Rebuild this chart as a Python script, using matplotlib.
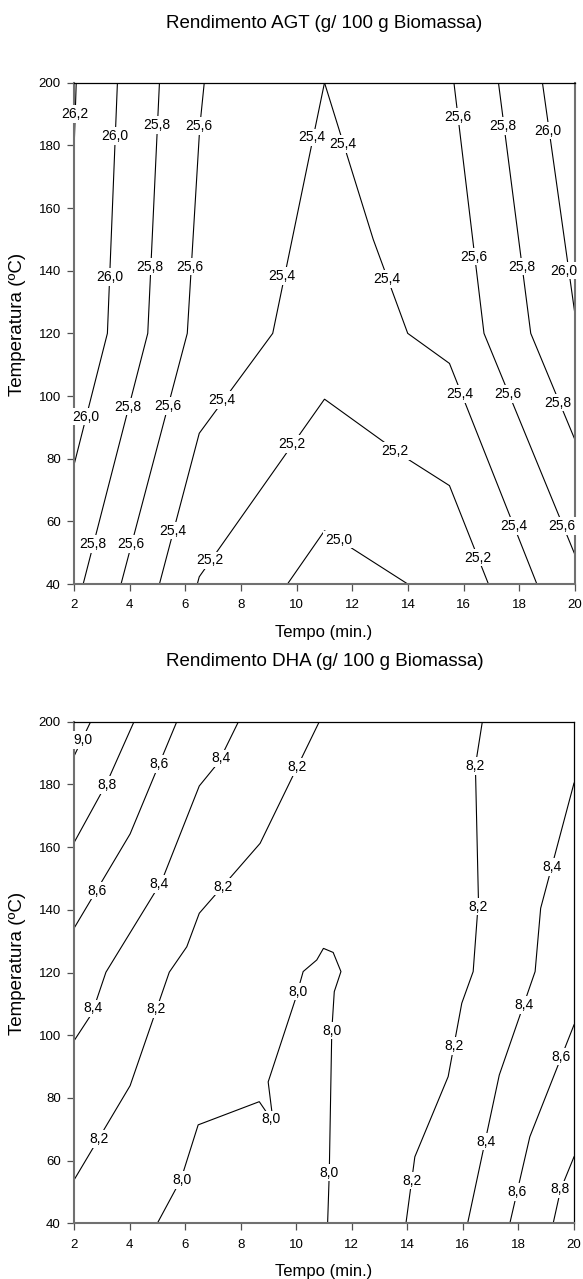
import matplotlib
matplotlib.use("Agg")
import matplotlib.pyplot as plt

plt.rcParams['font.family'] = ['Liberation Sans', 'DejaVu Sans']

# ---- AGT yield: contour lines (Tempo, Temperatura)
agt_line_x = [
    [2.08, 2.0],
    [3.56, 3.2, 2.0],
    [5.07, 4.65, 2.33],
    [6.68, 6.52, 6.07, 3.69],
    [11.0, 9.14, 6.50, 5.07],
    [11.0, 12.75, 13.99, 15.49, 18.63],
    [6.43, 6.5, 11.0, 13.95, 15.49, 16.89],
    [9.67, 11.0, 13.99],
    [15.65, 16.73, 20.0],
    [17.25, 18.41, 20.0],
    [18.83, 20.0],
]
agt_line_y = [
    [200, 178],
    [200, 120, 78],
    [200, 120, 40],
    [200, 186, 120, 40],
    [200, 120, 88.1, 40],
    [200, 150, 120, 110.4, 40],
    [40, 42.3, 99, 80.1, 71.4, 40],
    [40, 57, 40],
    [200, 120, 49.3],
    [200, 120, 86],
    [200, 126],
]
agt_label_x = [2.02, 3.45, 3.29, 2.42, 4.99, 4.73, 3.93, 2.69, 6.47, 6.17, 5.37, 4.05,
               10.54, 9.46, 7.31, 5.55, 11.65, 13.24, 15.87, 17.79,
               6.89, 9.82, 13.53, 16.5, 11.5, 15.79, 16.37, 17.58, 19.52,
               17.40, 18.09, 19.38, 19.02, 19.6]
agt_label_y = [190, 183, 138, 93.4, 186.5, 141.3, 96.6, 52.8, 186.2, 141.3, 96.8, 52.8,
               182.6, 138.3, 98.7, 57, 180.4, 137.3, 100.6, 58.5,
               47.6, 84.7, 82.5, 48.4, 54.2, 189.2, 144.5, 100.6, 58.5,
               186.2, 141.3, 97.9, 184.7, 140]
agt_label_txt = ["26,2", "26,0", "26,0", "26,0", "25,8", "25,8", "25,8", "25,8",
                 "25,6", "25,6", "25,6", "25,6", "25,4", "25,4", "25,4", "25,4",
                 "25,4", "25,4", "25,4", "25,4", "25,2", "25,2", "25,2", "25,2",
                 "25,0", "25,6", "25,6", "25,6", "25,6", "25,8", "25,8", "25,8",
                 "26,0", "26,0"]

# ---- DHA yield
dha_line_x = [
    [2.60, 2.0],
    [4.16, 3.17, 2.0],
    [5.70, 4.02, 2.0],
    [7.92, 7.2, 6.51, 5.15, 3.15, 2.65, 2.0],
    [10.83, 8.70, 6.51, 6.06, 5.43, 4.02, 2.0],
    [5.0, 5.85, 6.47, 8.67, 9.17, 8.99, 9.96, 10.25, 10.74, 10.98, 11.33, 11.61,
     11.37, 11.28, 11.19, 11.13],
    [16.70, 16.45, 16.56, 16.37, 15.96, 15.47, 14.27, 13.95],
    [20.0, 18.80, 18.60, 17.31, 16.17],
    [20.0, 18.41, 17.69],
    [20.0, 19.52, 19.25],
]
dha_line_y = [
    [200, 189],
    [200, 180.3, 161.4],
    [200, 164.2, 134.1],
    [200, 187, 179.5, 149, 120.1, 107, 98.2],
    [200, 161.2, 138.9, 128.2, 120.1, 83.9, 53.8],
    [40, 54, 71.4, 78.8, 72.3, 85.1, 111.2, 120.3, 124, 127.7, 126.4, 120.3,
     113.9, 101.4, 56.1, 40],
    [200, 186, 143, 120.3, 110.2, 86.8, 61.2, 40],
    [180.4, 140.5, 120.3, 87.3, 40],
    [103.3, 67.6, 40],
    [61.2, 50.8, 40],
]
dha_label_x = [2.33, 3.20, 5.06, 2.82, 7.29, 5.07, 2.68, 10.03, 7.35, 4.95, 2.91,
               5.89, 9.08, 10.05, 11.29, 11.19, 16.43, 16.53, 15.67, 14.16,
               19.2, 18.2, 16.84, 19.52, 17.96, 19.5]
dha_label_y = [194.2, 179.8, 186.5, 146.1, 188.3, 148.2, 108.6, 185.5, 147.4, 108.3, 66.9,
               53.8, 73.2, 113.9, 101.4, 56.1, 185.9, 141, 96.6, 53.6,
               153.6, 109.6, 66, 93.1, 50, 50.8]
dha_label_txt = ["9,0", "8,8", "8,6", "8,6", "8,4", "8,4", "8,4", "8,2", "8,2", "8,2", "8,2",
                 "8,0", "8,0", "8,0", "8,0", "8,0", "8,2", "8,2", "8,2", "8,2",
                 "8,4", "8,4", "8,4", "8,6", "8,6", "8,8"]

x_ticks = [2, 4, 6, 8, 10, 12, 14, 16, 18, 20]
y_ticks = [40, 60, 80, 100, 120, 140, 160, 180, 200]

W, H = 583, 1279
fig = plt.figure(figsize=(W / 100, H / 100), dpi=100)


def draw_panel(ax, xs, ys, lx, ly, lt, right_gray):
    for x, y in zip(xs, ys):
        ax.plot(x, y, color='black', lw=0.8, zorder=2, solid_joinstyle='miter')
    for x, y, t in zip(lx, ly, lt):
        ax.text(x, y, t, ha='center', va='center', fontsize=10, zorder=3,
                bbox=dict(boxstyle='square,pad=0.12', fc='white', ec='none'))
    ax.set_xlim(2, 20)
    ax.set_ylim(40, 200)
    ax.set_xticks(x_ticks)
    ax.set_yticks(y_ticks)
    ax.tick_params(direction='out', length=5, width=0.9, color='#505050',
                   labelsize=9.5)
    ax.tick_params(axis='x', pad=6)
    ax.tick_params(axis='y', pad=4.5)
    for s in ['left', 'bottom']:
        ax.spines[s].set_color('#707070')
        ax.spines[s].set_linewidth(1.5)
    ax.spines['top'].set_color('black')
    ax.spines['top'].set_linewidth(0.9)
    if right_gray:
        ax.spines['right'].set_color('#707070')
        ax.spines['right'].set_linewidth(1.5)
    else:
        ax.spines['right'].set_color('black')
        ax.spines['right'].set_linewidth(0.9)


ax1 = fig.add_axes([74 / W, 1 - 584 / H, 501 / W, 501.3 / H])
draw_panel(ax1, agt_line_x, agt_line_y, agt_label_x, agt_label_y, agt_label_txt, True)

ax2 = fig.add_axes([74 / W, 1 - 1223.3 / H, 500 / W, 501.6 / H])
draw_panel(ax2, dha_line_x, dha_line_y, dha_label_x, dha_label_y, dha_label_txt, False)

fig.text(324.5 / W, 1 - 24 / H, "Rendimento AGT (g/ 100 g Biomassa)",
         ha='center', va='center', fontsize=13.5)
fig.text(324.5 / W, 1 - 662 / H, "Rendimento DHA (g/ 100 g Biomassa)",
         ha='center', va='center', fontsize=13.5)
fig.text(324 / W, 1 - 633 / H, "Tempo (min.)", ha='center', va='center', fontsize=12)
fig.text(324 / W, 1 - 1271.5 / H, "Tempo (min.)", ha='center', va='center', fontsize=12)
fig.text(18 / W, 1 - 324 / H, "Temperatura (ºC)", ha='center', va='center',
         rotation=90, fontsize=13.5)
fig.text(18 / W, 1 - 963 / H, "Temperatura (ºC)", ha='center', va='center',
         rotation=90, fontsize=13.5)

fig.savefig("out.png", dpi=100)
